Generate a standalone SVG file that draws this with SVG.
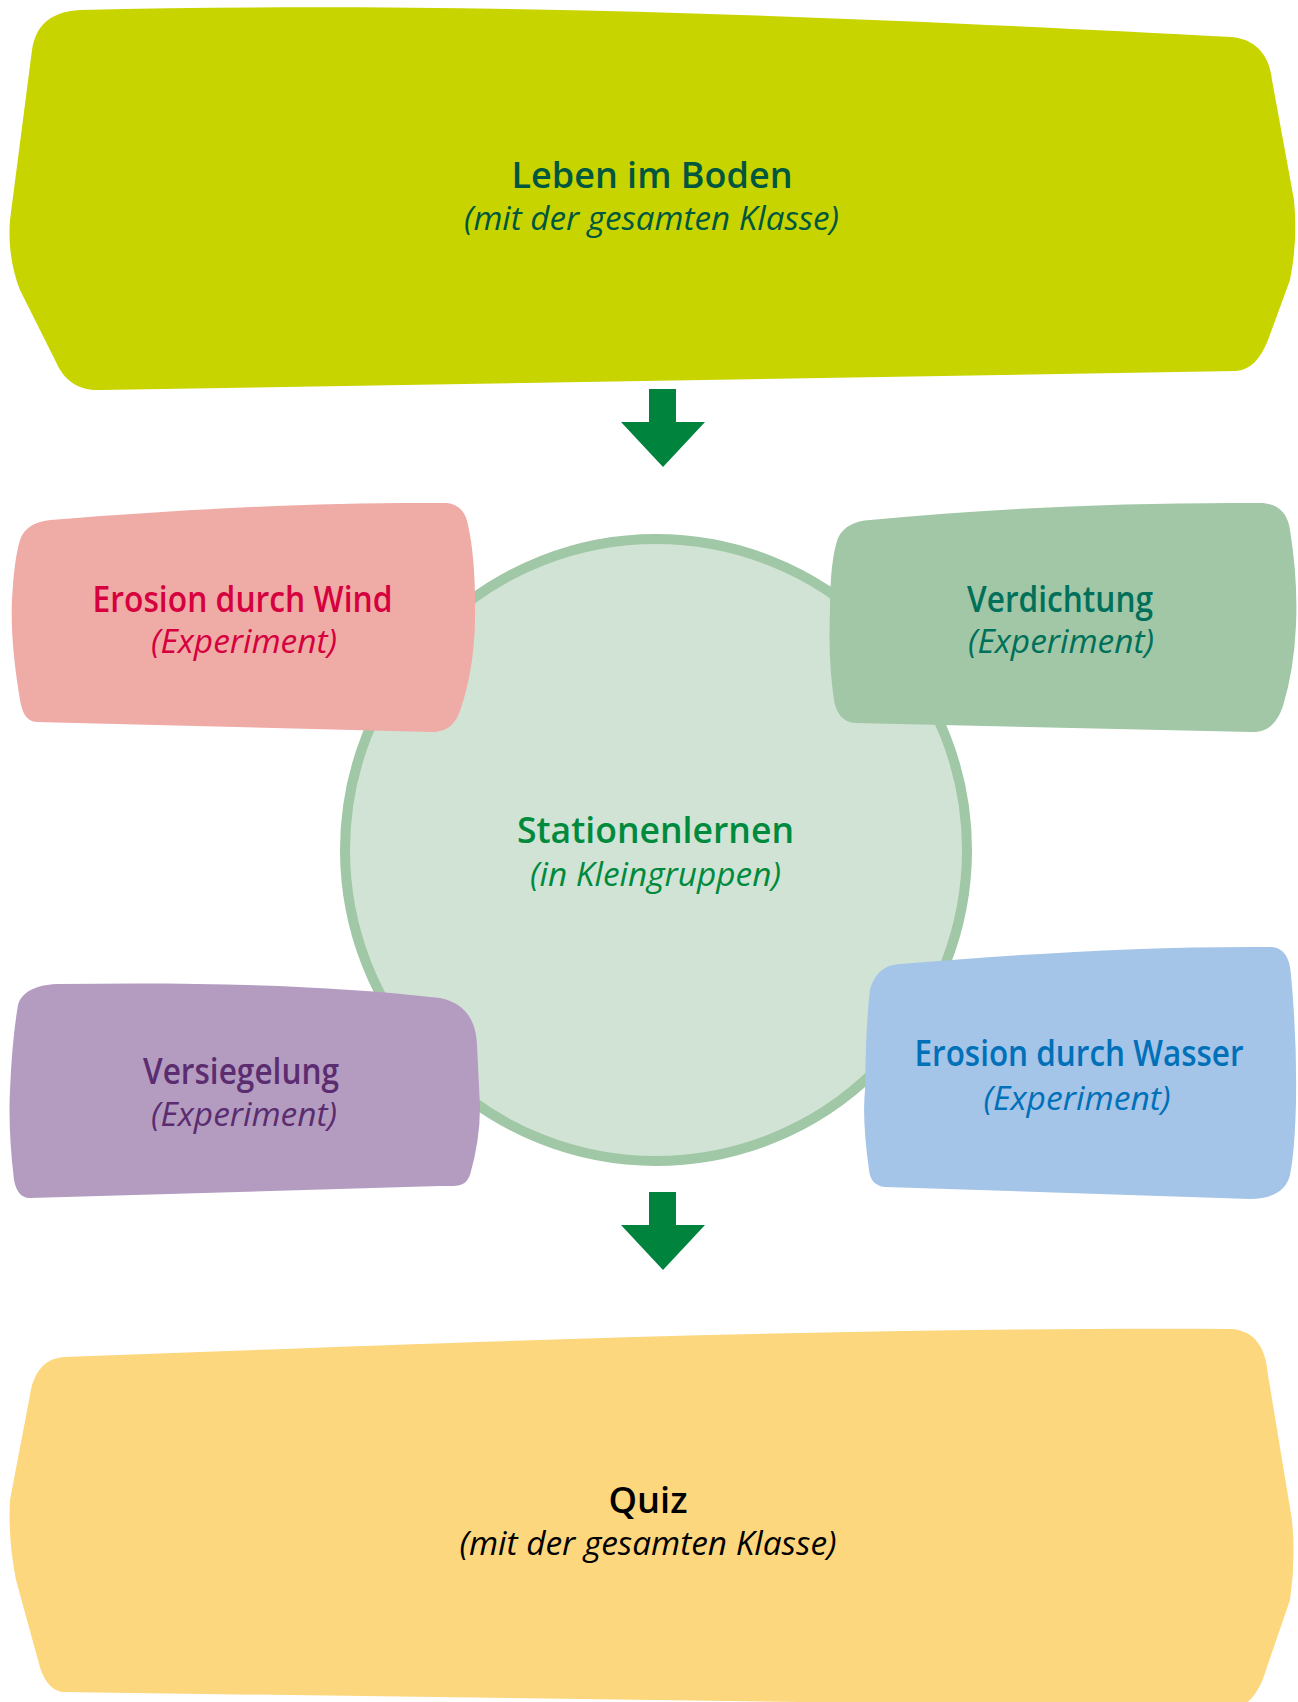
<svg xmlns="http://www.w3.org/2000/svg" width="1298" height="1702" viewBox="0 0 1298 1702">
<style>
.t{font-family:"Open Sans","Noto Sans","Liberation Sans",sans-serif;font-weight:600;font-size:36px;text-anchor:middle}
.s{font-family:"Open Sans","Noto Sans","Liberation Sans",sans-serif;font-style:italic;font-size:32px;text-anchor:middle}
.arrow{fill:#00843d}
</style>
<rect width="1298" height="1702" fill="#ffffff"/>
<g id="stationenlernen">
<circle cx="656" cy="850" r="311" fill="#d1e3d4" stroke="#a0c7a6" stroke-width="10"/>
<text class="t" x="655.5" y="843" fill="#008a3e" textLength="277" lengthAdjust="spacingAndGlyphs">Stationenlernen</text>
<text class="s" x="655.5" y="886" fill="#008a3e" textLength="251" lengthAdjust="spacingAndGlyphs">(in Kleingruppen)</text>
</g>
<g id="leben-im-boden">
<path d="M80,10 C500,0 900,20 1232,37 C1260,40 1270,60 1272,80 L1294,200 Q1298,240 1290,280 L1268,340 C1260,360 1250,370 1236,371 L100,390 C78,391 64,380 56,362 L20,290 C12,270 8,245 10,220 L32,50 C36,25 50,12 80,10 Z" fill="#c8d400"/>
<text class="t" x="652" y="188" fill="#00573f" textLength="281" lengthAdjust="spacingAndGlyphs">Leben im Boden</text>
<text class="s" x="651.5" y="230" fill="#00573f" textLength="375" lengthAdjust="spacingAndGlyphs">(mit der gesamten Klasse)</text>
</g>
<g id="erosion-wind">
<path d="M50,520 C200,508 330,502 447,503 C458,504 466,512 468,525 Q476,560 475,621 Q474,670 460,711 C455,726 445,732 432,732 L36,722 C26,721 22,712 20,700 Q10,640 12,600 Q14,560 20,540 C24,528 34,522 50,520 Z" fill="#efaba6"/>
<text class="t" x="242.5" y="612" fill="#d5003d" textLength="300" lengthAdjust="spacingAndGlyphs">Erosion durch Wind</text>
<text class="s" x="244" y="653" fill="#d5003d" textLength="186" lengthAdjust="spacingAndGlyphs">(Experiment)</text>
</g>
<g id="verdichtung">
<path d="M870,520 C1000,508 1130,502 1262,503 C1280,504 1288,515 1290,530 Q1298,580 1296,625 Q1294,670 1283,706 C1276,726 1266,732 1252,732 L855,723 C842,722 836,712 834,700 Q828,660 830,610 Q830,560 838,538 C844,526 855,521 870,520 Z" fill="#a1c7a6"/>
<text class="t" x="1060" y="612" fill="#00705a" textLength="186" lengthAdjust="spacingAndGlyphs">Verdichtung</text>
<text class="s" x="1061" y="653" fill="#00705a" textLength="186" lengthAdjust="spacingAndGlyphs">(Experiment)</text>
</g>
<g id="versiegelung">
<path d="M60,984 C200,982 330,985 440,998 C465,1003 476,1020 477,1045 L480,1107 Q480,1140 470,1175 C465,1188 455,1186 440,1186 L30,1198 C20,1198 16,1190 14,1180 Q8,1130 10,1090 Q12,1040 18,1005 C22,990 40,984 60,984 Z" fill="#b49cc1"/>
<text class="t" x="241" y="1084" fill="#5b2c6f" textLength="196" lengthAdjust="spacingAndGlyphs">Versiegelung</text>
<text class="s" x="244" y="1126" fill="#5b2c6f" textLength="186" lengthAdjust="spacingAndGlyphs">(Experiment)</text>
</g>
<g id="erosion-wasser">
<path d="M900,964 C1020,954 1150,946 1272,947 C1284,948 1290,958 1291,975 Q1297,1040 1296,1100 Q1295,1150 1290,1175 C1286,1192 1270,1199 1250,1199 L885,1187 C875,1186 870,1180 869,1170 Q862,1120 865,1090 Q866,1020 870,990 C875,972 885,965 900,964 Z" fill="#a4c4e8"/>
<text class="t" x="1079" y="1066" fill="#0070b8" textLength="329" lengthAdjust="spacingAndGlyphs">Erosion durch Wasser</text>
<text class="s" x="1077" y="1110" fill="#0070b8" textLength="187" lengthAdjust="spacingAndGlyphs">(Experiment)</text>
</g>
<g id="quiz">
<path d="M65,1357 C400,1345 800,1327 1232,1329 C1255,1331 1266,1348 1268,1375 L1292,1520 Q1296,1560 1290,1600 L1266,1670 C1260,1690 1252,1700 1240,1708 L62,1692 C50,1690 42,1678 38,1660 L16,1580 Q8,1540 10,1500 L30,1395 C34,1370 46,1358 65,1357 Z" fill="#fdd77d"/>
<text class="t" x="648" y="1513" fill="#000000" textLength="79" lengthAdjust="spacingAndGlyphs">Quiz</text>
<text class="s" x="648" y="1555" fill="#000000" textLength="377" lengthAdjust="spacingAndGlyphs">(mit der gesamten Klasse)</text>
</g>
<g id="connectors">
<path class="arrow" d="M649,389 H676 V422 H705 L663,467 L621,422 H649 Z"/>
<path class="arrow" d="M649,1192 H676 V1225 H705 L663,1270 L621,1225 H649 Z"/>
</g>
</svg>
